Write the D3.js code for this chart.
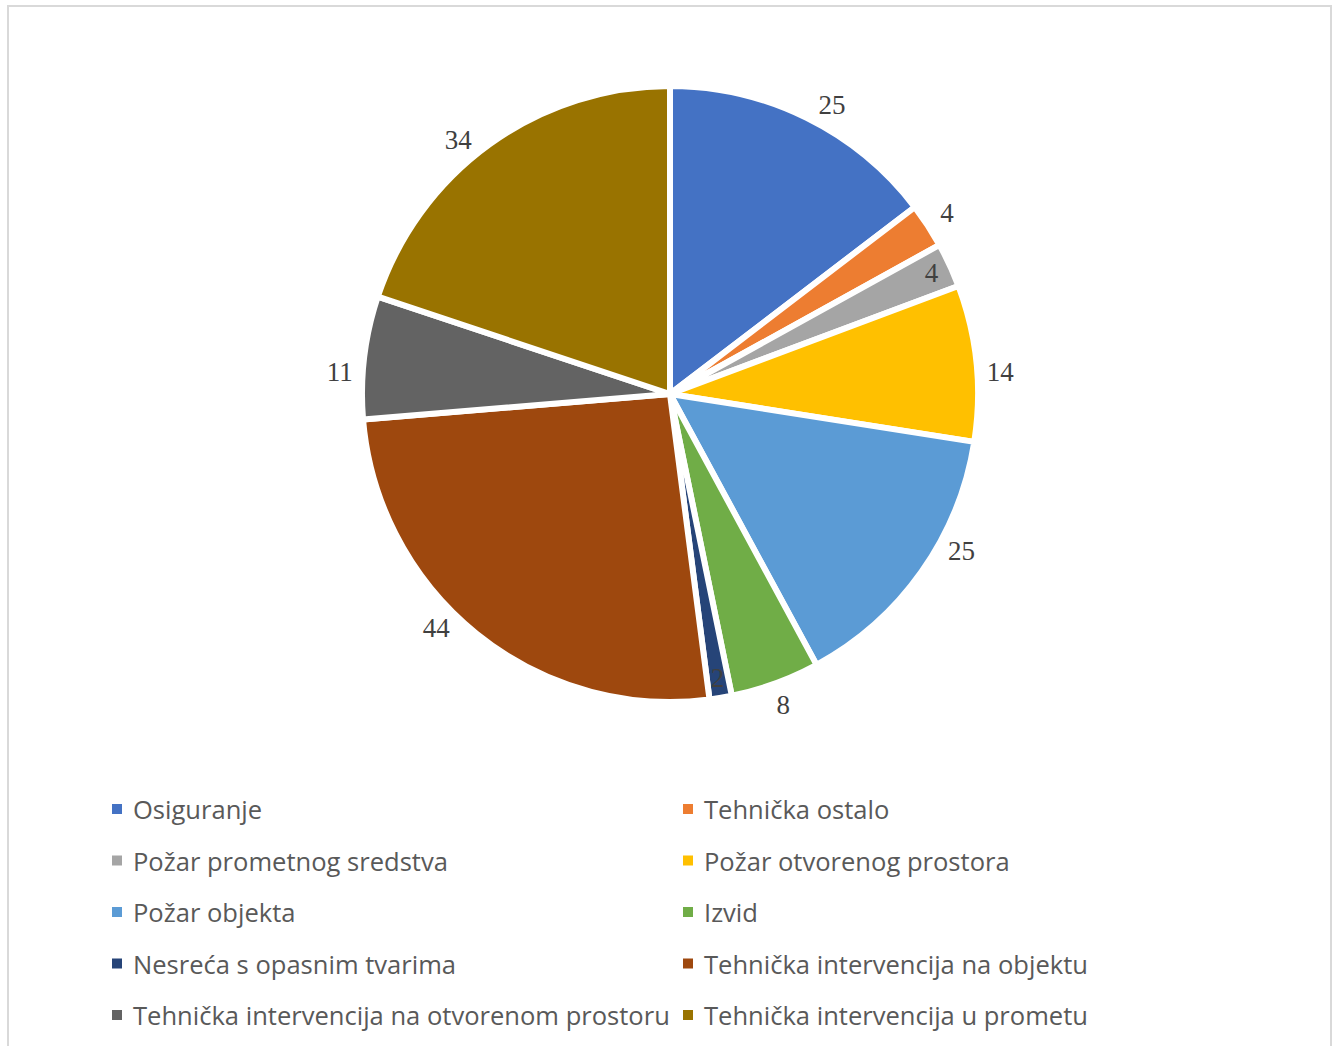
<!DOCTYPE html>
<html lang="hr">
<head>
<meta charset="UTF-8">
<title>Intervencije</title>
<script src="https://d3js.org/d3.v7.min.js"></script>
<style>
  body { margin: 0; background: #fff; overflow: hidden; }
  .frame { fill: #fff; stroke: #d9d9d9; stroke-width: 2; }
  .lbl { font-family: "Liberation Serif", "DejaVu Serif", serif; font-size: 27px; fill: #404040; }
  .leg { font-family: "Open Sans", "Noto Sans", sans-serif; fill: #595959; }
</style>
</head>
<body>
<svg id="chart"></svg>
<script>
// data
var categories = [
  "Osiguranje", "Tehnička ostalo", "Požar prometnog sredstva", "Požar otvorenog prostora",
  "Požar objekta", "Izvid", "Nesreća s opasnim tvarima", "Tehnička intervencija na objektu",
  "Tehnička intervencija na otvorenom prostoru", "Tehnička intervencija u prometu"
];
var values = [25, 4, 4, 14, 25, 8, 2, 44, 11, 34];
var colors = ["#4472C4", "#ED7D31", "#A5A5A5", "#FFC000", "#5B9BD5",
              "#70AD47", "#264478", "#9E480E", "#636363", "#997300"];

// label layout (Excel moved some labels a bit; inside = best-fit labels)
var labelInside = [false, false, true, false, false, false, true, false, false, false];
var labelNudgeDeg = [3, 0, 0, 2, -7, 0, 0, 6, -3, -4];

var W = 1336, H = 1046;
var svg = d3.select("#chart").attr("width", W).attr("height", H);

svg.append("rect").attr("class", "frame")
  .attr("x", 8).attr("y", 6).attr("width", 1323).attr("height", 1060);

var cx = 670, cy = 394, R = 308;

var pie = d3.pie().sort(null).value(function (d) { return d; });
var arcs = pie(values);
var arc = d3.arc().innerRadius(0).outerRadius(R);

var g = svg.append("g").attr("transform", "translate(" + cx + "," + cy + ")");

g.selectAll("path.slice")
  .data(arcs)
  .enter().append("path")
  .attr("class", "slice")
  .attr("d", arc)
  .attr("fill", function (d, i) { return colors[i]; })
  .attr("stroke", "#fff")
  .attr("stroke-width", 6)
  .attr("stroke-linejoin", "round");

g.selectAll("text.lbl")
  .data(arcs)
  .enter().append("text")
  .attr("class", "lbl")
  .attr("text-anchor", "middle")
  .attr("dominant-baseline", "central")
  .attr("transform", function (d, i) {
    var a = (d.startAngle + d.endAngle) / 2 + labelNudgeDeg[i] * Math.PI / 180;
    var r = labelInside[i] ? 288 : 331;
    return "translate(" + (r * Math.sin(a)) + "," + (-r * Math.cos(a)) + ")";
  })
  .text(function (d) { return d.data; });

// legend, two columns
var colX = [112, 683];
var rowY0 = 809, rowStep = 51.5;
var legend = svg.append("g");

var items = legend.selectAll("g.item")
  .data(categories)
  .enter().append("g")
  .attr("class", "item")
  .attr("transform", function (d, i) {
    return "translate(" + colX[i % 2] + "," + (rowY0 + Math.floor(i / 2) * rowStep) + ")";
  });

items.append("rect")
  .attr("x", 0).attr("y", -5).attr("width", 10).attr("height", 10)
  .attr("fill", function (d, i) { return colors[i]; });

var texts = items.append("text")
  .attr("class", "leg")
  .attr("x", 21)
  .attr("dominant-baseline", "central")
  .style("font-size", "24px")
  .text(function (d) { return d; });

// fit font size so the longest entry spans like the original (~537px)
var longest = texts.nodes()[8];
var w = longest.getComputedTextLength();
var fs = 24 * 537 / w;
texts.style("font-size", fs + "px");
</script>
</body>
</html>
